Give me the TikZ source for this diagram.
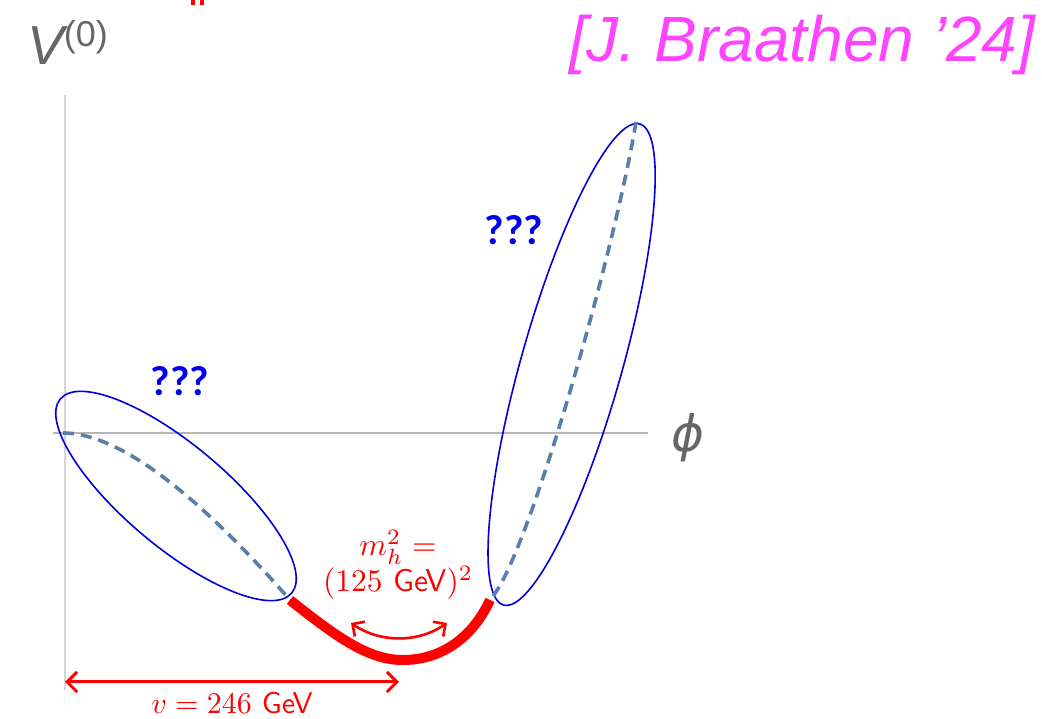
\documentclass[tikz,border=0pt]{standalone}
\usepackage{fontspec}
\newfontfamily\helv{Liberation Sans}
\newfontfamily\dejav{DejaVu Sans}
\newfontfamily\carl{Carlito}
\usetikzlibrary{arrows.meta}
\definecolor{axisgray}{HTML}{B8B8B8}
\definecolor{vaxisgray}{HTML}{D5D5D5}
\definecolor{labgray}{HTML}{666666}
\definecolor{ellblue}{HTML}{0000DD}
\definecolor{qblue}{HTML}{0000EE}
\definecolor{dashblue}{HTML}{5A7EA8}
\definecolor{magentalab}{HTML}{FF44FF}
\definecolor{hred}{HTML}{FF0000}
\begin{document}
\begin{tikzpicture}[x=1pt,y=1pt,
  haxis/.style={draw=axisgray,line width=1.1pt},
  vaxis/.style={draw=vaxisgray,line width=1.6pt},
  ellipsebox/.style={draw=ellblue,line width=1.6pt},
  flatdir/.style={draw=dashblue,line width=3.6pt,dash pattern=on 11pt off 7pt},
  mincurve/.style={draw=hred,line width=10pt},
  redarrow/.style={draw=hred,line width=3pt,{Straight Barb[length=10pt,width=20pt]}-{Straight Barb[length=10pt,width=20pt]}},
  smallarrow/.style={draw=hred,line width=2.6pt,{Straight Barb[length=9pt,width=18pt]}-{Straight Barb[length=9pt,width=18pt]}},
  qmark/.style={text=qblue,font=\carl\bfseries\fontsize{42}{42}\selectfont,inner sep=0pt},
  redlab/.style={text=hred,inner sep=0pt},
  graylab/.style={text=labgray,inner sep=0pt}]
\useasboundingbox (0,0) rectangle (1042,719);

% fragments cut at the top edge
\fill[hred] (191,714) rectangle (195,719);
\fill[hred] (200,714) rectangle (204,719);

% axes
\coordinate (vtop) at (65,624);
\coordinate (vbot) at (65,29);
\coordinate (hleft) at (53,286);
\coordinate (hright) at (648,286);
\draw[vaxis] (vbot) -- (vtop);
\draw[haxis] (hleft) -- (hright);

% axis labels
\node[graylab,anchor=base west] (vlab) at (27,654)
  {\helv\fontsize{55}{60}\selectfont\itshape V\upshape\raisebox{18pt}{\fontsize{36}{36}\selectfont(0)}};
\node[graylab] (philab) at (688,281.5) {\dejav\itshape\fontsize{50}{50}\selectfont ϕ};

% citation
\node[text=magentalab,inner sep=0pt,anchor=base west] (cite) at (569,657)
  {\helv\itshape\fontsize{64}{70}\selectfont [J. Braathen ’24]};

% ellipses
\draw[ellipsebox,rotate around={-40:(176,223)}] (176,223) ellipse [x radius=151, y radius=51];
\draw[ellipsebox,rotate around={74.2:(571.6,354.5)}] (571.6,354.5) ellipse [x radius=250, y radius=50.4];

% question marks
\node[qmark] (q1) at (180,338) {???};
\node[qmark] (q2) at (514,488.5) {???};

% curve points
\coordinate (origin) at (63,286);
\coordinate (minL) at (290,119);
\coordinate (minB) at (403,59);
\coordinate (minR) at (490,119);
\coordinate (dR) at (493,123);
\coordinate (topR) at (636,597);

% dashed extrapolations
\draw[flatdir] (origin) .. controls (130,286) and (220,199) .. (minL);
\draw[flatdir] (dR) .. controls (530,169) and (615,469) .. (topR);

% known part around the minimum
\draw[mincurve] (minL) .. controls (340,79) and (370,59) .. (minB)
  .. controls (440,59) and (472,80) .. (minR);

% curvature arrow
\coordinate (aL) at (351,96);
\coordinate (aR) at (447,96);
\draw[smallarrow] (aL) .. controls (380,76) and (418,76) .. (aR);

% mass label
\node[redlab,anchor=south,scale=3.15,align=center,font=\fontsize{10}{11.4}\selectfont] (mlab) at (398,119)
  {$m_h^2 =$\\$(125~\textsf{GeV})^2$};

% vev arrow
\coordinate (vL) at (65,37);
\coordinate (vR) at (399,37);
\draw[redarrow] (vL) -- (vR);
\node[redlab,anchor=base,scale=3.0] (vevlab) at (232,5) {$v = 246~\textsf{GeV}$};
\end{tikzpicture}
\end{document}
